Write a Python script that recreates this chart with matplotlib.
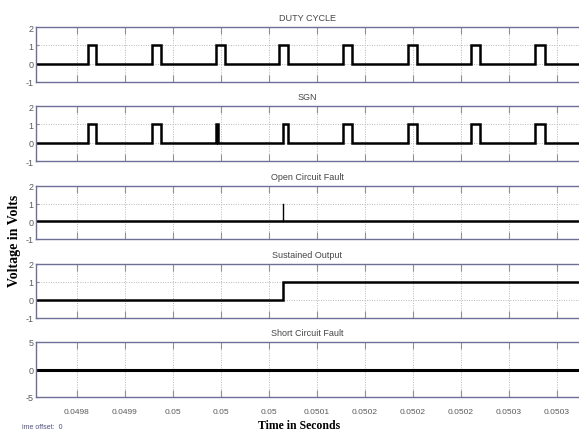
import matplotlib
matplotlib.use("Agg")
import matplotlib.pyplot as plt
from matplotlib import font_manager

# ---------------- data ----------------
titles = ["DUTY CYCLE", "SGN", "Open Circuit Fault", "Sustained Output", "Short Circuit Fault"]

tick_values = [0.04980, 0.04985, 0.04990, 0.04995, 0.05000, 0.05005,
               0.05010, 0.05015, 0.05020, 0.05025, 0.05030]
tick_labels = ["0.0498", "0.0499", "0.05", "0.05", "0.05", "0.0501",
               "0.0502", "0.0502", "0.0502", "0.0503", "0.0503"]

t_start = 0.0497573
t_end = 0.0503230

duty_rise = [0.0498115, 0.0498781, 0.0499448, 0.0500104, 0.0500771, 0.0501448, 0.0502104, 0.0502771]
duty_fall = [0.0498198, 0.0498875, 0.0499542, 0.0500198, 0.0500865, 0.0501542, 0.0502198, 0.0502875]

sgn_rise = [0.0498115, 0.0498781, 0.0499448, 0.0500146, 0.0500771, 0.0501448, 0.0502104, 0.0502771]
sgn_fall = [0.0498198, 0.0498875, 0.0499472, 0.0500198, 0.0500865, 0.0501542, 0.0502198, 0.0502875]

fault_time = 0.0500146
fault_spike = 1.0
sustained_level = 1.0
short_level = 0.0

ylims = [(-1, 2), (-1, 2), (-1, 2), (-1, 2), (-5, 5)]
yticks = [[-1, 0, 1, 2], [-1, 0, 1, 2], [-1, 0, 1, 2], [-1, 0, 1, 2], [-5, 0, 5]]

# ---------------- helpers ----------------
def pulse_train(rises, falls, t0, t1):
    xs, ys = [t0], [0]
    for r, f in zip(rises, falls):
        xs += [r, r, f, f]
        ys += [0, 1, 1, 0]
    xs.append(t1)
    ys.append(0)
    return xs, ys

avail = {f.name for f in font_manager.fontManager.ttflist}
narrow = ["Liberation Sans Narrow", "Liberation Sans", "DejaVu Sans"]
narrow = [f for f in narrow if f in avail] or ["DejaVu Sans"]
serif = ["Liberation Serif", "DejaVu Serif"]
serif = [f for f in serif if f in avail] or ["DejaVu Serif"]

plt.rcParams['font.family'] = narrow
plt.rcParams['axes.unicode_minus'] = False

fig = plt.figure(figsize=(5.79, 4.35), dpi=100)
H = 435.0
W = 579.0
panels_px = [(28, 83), (107, 162), (187, 240), (265, 319), (343, 398)]
left = 36 / W
width = 1.0 - left

spine_col = "#6e6e96"
grid_col = "#b8b8b8"
lab_col = "#5a5a5a"

axes = []
for i, (top, bot) in enumerate(panels_px):
    ax = fig.add_axes([left, 1 - bot / H, width, (bot - top) / H])
    axes.append(ax)
    ax.set_xlim(t_start, t_end)
    ax.set_ylim(*ylims[i])
    ax.set_yticks(yticks[i])
    ax.set_xticks(tick_values)
    if i == 4:
        ax.set_xticklabels(tick_labels)
    else:
        ax.set_xticklabels([])
    ax.grid(True, linestyle=(0, (1, 1.5)), color=grid_col, linewidth=0.7)
    for name, s in ax.spines.items():
        s.set_color(spine_col)
        s.set_linewidth(1.0)
    ax.spines['right'].set_visible(False)
    ax.tick_params(axis='x', direction='in', length=5, top=True, bottom=True,
                   color="#909090", labelsize=6, labelcolor=lab_col, pad=8)
    ax.tick_params(axis='y', direction='in', length=2, left=True, right=False,
                   color="#909090", labelsize=6.5, labelcolor=lab_col, pad=2)
    ax.set_title(titles[i], fontsize=6.5, color="#454545", pad=5)
    ax.set_axisbelow(True)

lw = 1.8
xs, ys = pulse_train(duty_rise, duty_fall, t_start, t_end)
axes[0].plot(xs, ys, color="black", linewidth=lw, solid_joinstyle='miter')

xs, ys = pulse_train(sgn_rise, sgn_fall, t_start, t_end)
axes[1].plot(xs, ys, color="black", linewidth=lw, solid_joinstyle='miter')

axes[2].plot([t_start, t_end], [0, 0], color="black", linewidth=lw)
axes[2].plot([fault_time, fault_time], [0, fault_spike], color="black", linewidth=1.0)

axes[3].plot([t_start, fault_time, fault_time, t_end], [0, 0, sustained_level, sustained_level],
             color="black", linewidth=lw, solid_joinstyle='miter')

axes[4].plot([t_start, t_end], [short_level, short_level], color="black", linewidth=2.2)

fig.text(15 / W, 1 - 241 / H, "Voltage in Volts", rotation=90, ha='center', va='center',
         family=serif, fontweight='bold', fontsize=10)
fig.text(299 / W, 1 - 426 / H, "Time in Seconds", ha='center', va='center',
         family=serif, fontweight='bold', fontsize=8.5)
fig.text(22 / W, 1 - 428 / H, "ime offset:  0", ha='left', va='center',
         fontsize=5, color="#505080")

fig.savefig("out.png", dpi=100)
